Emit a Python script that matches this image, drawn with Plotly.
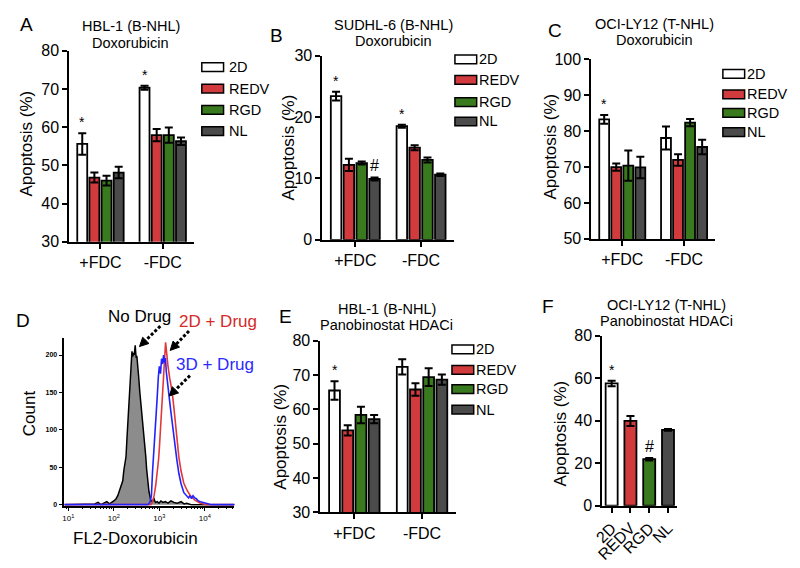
import math
import plotly.graph_objects as go

# ---------------- data ----------------
groups = ["+FDC", "-FDC"]
series_names = ["2D", "REDV", "RGD", "NL"]

# Panel A: HBL-1 (B-NHL), Doxorubicin
A_2D = [55.6, 70.3]; A_2D_err = [2.8, 0.5]
A_REDV = [46.8, 57.9]; A_REDV_err = [1.3, 1.6]
A_RGD = [46.0, 57.9]; A_RGD_err = [1.3, 2.0]
A_NL = [48.1, 56.3]; A_NL_err = [1.5, 1.0]

# Panel B: SUDHL-6 (B-NHL), Doxorubicin
B_2D = [23.4, 18.5]; B_2D_err = [0.7, 0.25]
B_REDV = [12.2, 15.0]; B_REDV_err = [1.0, 0.4]
B_RGD = [12.5, 13.0]; B_RGD_err = [0.25, 0.4]
B_NL = [9.9, 10.6]; B_NL_err = [0.25, 0.2]

# Panel C: OCI-LY12 (T-NHL), Doxorubicin
C_2D = [83.3, 78.1]; C_2D_err = [1.2, 3.2]
C_REDV = [70.0, 72.0]; C_REDV_err = [1.0, 1.6]
C_RGD = [70.4, 82.4]; C_RGD_err = [4.2, 1.0]
C_NL = [69.9, 75.6]; C_NL_err = [3.0, 2.0]

# Panel E: HBL-1 (B-NHL), Panobinostat HDACi
E_2D = [65.5, 72.4]; E_2D_err = [2.7, 2.2]
E_REDV = [53.9, 65.8]; E_REDV_err = [1.5, 1.8]
E_RGD = [58.4, 69.4]; E_RGD_err = [2.4, 2.6]
E_NL = [57.2, 68.7]; E_NL_err = [1.2, 1.5]

# Panel F: OCI-LY12 (T-NHL), Panobinostat HDACi
F_cats = ["2D", "REDV", "RGD", "NL"]
F_vals = [57.6, 39.9, 21.9, 35.7]
F_err = [1.3, 2.4, 0.6, 0.4]

# Panel D: flow cytometry histograms (FL2-Doxorubicin intensity, count)
nodrug_x = [8.2, 25, 38, 45, 52, 60, 70, 80, 90, 100, 112, 122, 135, 146, 157, 166, 176, 185,
            194, 202, 210, 219, 228, 238, 250, 260, 270, 280, 288, 295, 302, 310, 320, 333, 350,
            373, 395, 420, 443, 470, 504, 525, 548, 590, 647, 700, 735, 760, 790, 830, 900, 980,
            1080, 1200, 1350, 1550, 1800, 2100, 2500, 3000, 3500, 4000, 5000, 45000]
nodrug_y = [0, 0, 1, 3, 0, 2, 4, 1, 3, 5, 8, 12, 20, 28, 32, 46, 58, 64,
            88, 106, 128, 150, 165, 193, 205, 198, 203, 200, 209, 213, 204, 196, 199, 190, 172,
            150, 135, 118, 106, 85, 64, 48, 32, 18, 6, 4, 6, 9, 5, 3, 4, 2,
            5, 3, 4, 2, 5, 3, 2, 4, 1, 2, 0, 0]

drug2d_x = [8.2, 650, 700, 766, 830, 906, 960, 1000, 1072, 1130, 1200, 1260, 1300, 1340, 1371, 1410,
            1450, 1550, 1700, 1919, 2100, 2265, 2450, 2680, 3000, 3440, 4000, 4790, 5500, 6000,
            7000, 8000, 11000, 45000]
drug2d_y = [0, 0, 3, 12, 25, 42, 60, 75, 106, 140, 171, 188, 200, 206, 217, 210,
            200, 185, 168, 150, 128, 106, 85, 64, 45, 29, 20, 12, 9, 6,
            4, 2, 0, 0]

drug3d_x = [8.2, 560, 620, 670, 705, 760, 831, 890, 951, 1000, 1060, 1120, 1180, 1240, 1300, 1360,
            1420, 1500, 1600, 1762, 1950, 2152, 2400, 2680, 3000, 3460, 4000, 4400, 4700, 5100,
            5500, 6000, 6500, 7200, 8000, 10000, 14000, 45000]
drug3d_y = [0, 0, 3, 12, 42, 70, 106, 140, 171, 185, 175, 195, 188, 200, 190, 196,
            178, 160, 150, 128, 105, 85, 62, 42, 28, 16, 12, 9, 12, 8,
            12, 9, 8, 5, 4, 2, 0, 0]

# ---------------- styling ----------------
W, H = 800, 568
FONT = "Arial, Liberation Sans, Helvetica, sans-serif"
COLORS = {"2D": "#ffffff", "REDV": "#d23b3d", "RGD": "#3a7a1e", "NL": "#4b4b4b"}


def px(x):
    return x / W


def py(y):
    return 1 - y / H


def xdom(left, right):
    return [px(left), px(right)]


def ydom(top, bottom):
    return [py(bottom), py(top)]


fig = go.Figure()


def add_group_panel(xa, ya, data):
    for name, (vals, errs) in zip(series_names, data):
        fig.add_trace(go.Bar(
            x=groups, y=vals, name=name, xaxis=xa, yaxis=ya, showlegend=False,
            marker=dict(color=COLORS[name], line=dict(color="black", width=1.8)),
            error_y=dict(type="data", array=errs, color="black", thickness=2, width=4),
        ))


add_group_panel("x", "y", [(A_2D, A_2D_err), (A_REDV, A_REDV_err), (A_RGD, A_RGD_err), (A_NL, A_NL_err)])
add_group_panel("x2", "y2", [(B_2D, B_2D_err), (B_REDV, B_REDV_err), (B_RGD, B_RGD_err), (B_NL, B_NL_err)])
add_group_panel("x3", "y3", [(C_2D, C_2D_err), (C_REDV, C_REDV_err), (C_RGD, C_RGD_err), (C_NL, C_NL_err)])
add_group_panel("x5", "y5", [(E_2D, E_2D_err), (E_REDV, E_REDV_err), (E_RGD, E_RGD_err), (E_NL, E_NL_err)])

fig.add_trace(go.Bar(
    x=F_cats, y=F_vals, xaxis="x6", yaxis="y6", showlegend=False,
    marker=dict(color=[COLORS[c] for c in F_cats], line=dict(color="black", width=1.8)),
    error_y=dict(type="data", array=F_err, color="black", thickness=2, width=4),
))

# Panel D histograms
fig.add_trace(go.Scatter(x=nodrug_x, y=nodrug_y, mode="lines", fill="tozeroy", fillcolor="#8c8c8c",
                         line=dict(color="black", width=1.5), xaxis="x4", yaxis="y4", showlegend=False))
fig.add_trace(go.Scatter(x=drug2d_x, y=drug2d_y, mode="lines",
                         line=dict(color="#e0383a", width=1.6), xaxis="x4", yaxis="y4", showlegend=False))
fig.add_trace(go.Scatter(x=drug3d_x, y=drug3d_y, mode="lines",
                         line=dict(color="#2222ff", width=1.6), xaxis="x4", yaxis="y4", showlegend=False))

tickfont = dict(family=FONT, size=16, color="black")
common = dict(showline=True, linecolor="black", linewidth=2, ticks="outside", ticklen=5, tickwidth=2,
              tickcolor="black", showgrid=False, zeroline=False, fixedrange=True)


def cat_x(domain, anchor, cats, angle=0):
    return dict(domain=domain, anchor=anchor, type="category", categoryorder="array", categoryarray=cats,
                range=[-0.5, len(cats) - 0.5], tickmode="array", tickvals=cats, ticktext=cats,
                tickfont=tickfont, tickangle=angle, **common)


def lin_y(domain, anchor, rng, dtick):
    return dict(domain=domain, anchor=anchor, range=rng, tick0=rng[0], dtick=dtick, tickfont=tickfont, **common)


decades = [10, 100, 1000, 10000]
minor_vals = [m * d for d in [1, 10, 100, 1000, 10000] for m in range(2, 10) if 8 <= m * d <= 45000]

fig.update_layout(
    width=W, height=568, margin=dict(l=0, r=0, t=0, b=0),
    plot_bgcolor="white", paper_bgcolor="white", showlegend=False,
    barmode="group", bargap=0.22, bargroupgap=0.18,
    font=dict(family=FONT, color="black"),
    xaxis=cat_x(xdom(61, 187), "y", groups),
    yaxis=lin_y(ydom(44, 241), "x", [30, 80], 10),
    xaxis2=cat_x(xdom(317, 450), "y2", groups),
    yaxis2=lin_y(ydom(49, 239), "x2", [0, 30], 10),
    xaxis3=cat_x(xdom(589, 714), "y3", groups),
    yaxis3=lin_y(ydom(53, 238), "x3", [50, 100], 10),
    xaxis4=dict(domain=xdom(56, 228), anchor="y4", type="log", range=[0.913, 4.65],
                tickvals=decades, ticktext=["10<sup>1</sup>", "10<sup>2</sup>", "10<sup>3</sup>", "10<sup>4</sup>"],
                tickfont=dict(family=FONT, size=8, color="black"),
                showline=True, linecolor="black", linewidth=1.5, ticks="outside", ticklen=4, tickwidth=1.2,
                tickcolor="black", showgrid=False, zeroline=False, fixedrange=True,
                minor=dict(tickvals=minor_vals, ticks="outside", ticklen=2, tickwidth=1, tickcolor="black",
                           showgrid=False)),
    yaxis4=dict(domain=ydom(340, 513), anchor="x4", range=[-1.3, 223],
                tickvals=[0, 50, 100, 150, 200],
                tickfont=dict(family=FONT, size=7, color="black", weight="bold"),
                showline=True, linecolor="black", linewidth=1.5, ticks="outside", ticklen=4, tickwidth=1.2,
                tickcolor="black", showgrid=False, zeroline=False, fixedrange=True),
    xaxis5=cat_x(xdom(315, 452), "y5", groups),
    yaxis5=lin_y(ydom(343, 520), "x5", [30, 80], 10),
    xaxis6=cat_x(xdom(600, 676), "y6", F_cats, angle=-45),
    yaxis6=lin_y(ydom(338, 513), "x6", [0, 80], 20),
)

ann = []
shapes = []


def text(x, y, t, size, color="black", angle=0, xanchor="center"):
    ann.append(dict(x=px(x), y=py(y), xref="paper", yref="paper", text=t, showarrow=False,
                    xanchor=xanchor, yanchor="middle", textangle=angle,
                    font=dict(family=FONT, size=size, color=color)))


# Panel letters
text(18, 17, "A", 19)
text(271, 28, "B", 19)
text(552, 23, "C", 19)
text(14, 322, "D", 19)
text(280, 318, "E", 19)
text(545, 308, "F", 19)

# Panel titles
text(123, 19, "HBL-1 (B-NHL)", 14.5)
text(123, 36, "Doxorubicin", 14.5)
text(389, 18, "SUDHL-6 (B-NHL)", 14.5)
text(389, 34, "Doxorubicin", 14.5)
text(653, 17, "OCI-LY12 (T-NHL)", 14.5)
text(653, 33, "Doxorubicin", 14.5)
text(382, 310, "HBL-1 (B-NHL)", 14.5)
text(382, 327, "Panobinostat HDACi", 14.5)
text(665, 306, "OCI-LY12 (T-NHL)", 14.5)
text(665, 323, "Panobinostat HDACi", 14.5)

# Y-axis titles
text(18, 140, "Apoptosis (%)", 17, angle=-90)
text(283, 144, "Apoptosis (%)", 17, angle=-90)
text(548, 143, "Apoptosis (%)", 17, angle=-90)
text(275, 442, "Apoptosis (%)", 17, angle=-90)
text(558, 439, "Apoptosis (%)", 17, angle=-90)
text(21, 418, "Count", 17, angle=-90)
text(128, 547, "FL2-Doxorubicin", 17)

# Legends (manual, wide swatches)
legend_specs = [
    (195, 220, [61, 83, 105, 127]),
    (451, 473, [53, 74, 97, 117]),
    (722, 744, [68, 89, 108, 128]),
    (448, 470, [352, 373, 393, 414]),
]
for sx, tx, ys in legend_specs:
    for name, yc in zip(series_names, ys):
        shapes.append(dict(type="rect", xref="paper", yref="paper",
                           x0=px(sx), x1=px(sx + 22), y0=py(yc + 4.5), y1=py(yc - 4.5),
                           fillcolor=COLORS[name], line=dict(color="black", width=1.5)))
        text(tx, yc, name, 14.5, xanchor="left")


# Significance marks (in data coordinates)
def mark(xa, ya, xpos, ytop, sym, size):
    ann.append(dict(x=xpos, y=ytop, xref=xa, yref=ya, text=sym, showarrow=False,
                    xanchor="center", yanchor="bottom", yshift=1,
                    font=dict(family=FONT, size=size, color="black")))


off2d = -0.2925
offnl = 0.2925
mark("x", "y", 0 + off2d, A_2D[0] + A_2D_err[0], "*", 14)
mark("x", "y", 1 + off2d, A_2D[1] + A_2D_err[1], "*", 14)
mark("x2", "y2", 0 + off2d, B_2D[0] + B_2D_err[0], "*", 14)
mark("x2", "y2", 1 + off2d, B_2D[1] + B_2D_err[1], "*", 14)
mark("x2", "y2", 0 + offnl, B_NL[0] + B_NL_err[0], "#", 16)
mark("x3", "y3", 0 + off2d, C_2D[0] + C_2D_err[0], "*", 14)
mark("x5", "y5", 0 + off2d, E_2D[0] + E_2D_err[0], "*", 14)
mark("x6", "y6", 0, F_vals[0] + F_err[0], "*", 14)
mark("x6", "y6", 2, F_vals[2] + F_err[2], "#", 16)

# Panel D labels and dotted arrows (shaft as dotted line, head as filled triangle)
text(132, 318, "No Drug", 17)
text(211, 323, "2D + Drug", 17, color="#d42a2a")
text(208, 367, "3D + Drug", 17, color="#2a2aff")
arrows = [((153, 328), (132, 349)), ((182, 333), (163, 353)), ((183, 379), (162, 400))]
for (tx0, ty0), (hx, hy) in arrows:
    dx, dy = hx - tx0, hy - ty0
    L = math.hypot(dx, dy)
    ux, uy = dx / L, dy / L
    nx, ny = -uy, ux
    head_len, head_w = 9, 4.5
    bx, by = hx - ux * head_len, hy - uy * head_len
    shapes.append(dict(type="line", xref="paper", yref="paper", x0=px(tx0), y0=py(ty0),
                       x1=px(bx), y1=py(by), line=dict(color="black", width=3, dash="3px,2px")))
    p1 = (px(hx), py(hy))
    p2 = (px(bx + nx * head_w), py(by + ny * head_w))
    p3 = (px(bx - nx * head_w), py(by - ny * head_w))
    path = "M {:.5f},{:.5f} L {:.5f},{:.5f} L {:.5f},{:.5f} Z".format(p1[0], p1[1], p2[0], p2[1], p3[0], p3[1])
    shapes.append(dict(type="path", xref="paper", yref="paper", path=path,
                       fillcolor="black", line=dict(color="black", width=1)))

fig.update_layout(annotations=ann, shapes=shapes)
fig.write_html("out.html", config={"displayModeBar": False},
               post_script="document.body.style.margin='0';document.body.style.padding='0';document.documentElement.style.overflow='hidden';")
